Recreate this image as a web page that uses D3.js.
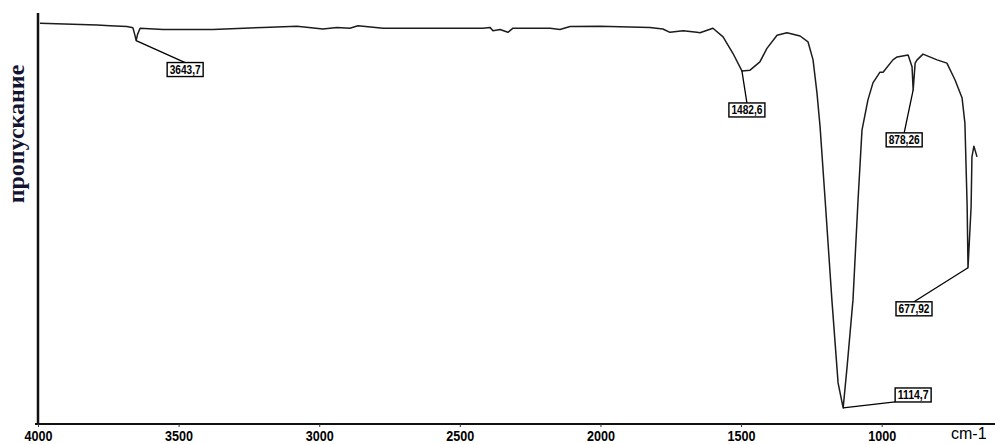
<!DOCTYPE html>
<html>
<head>
<meta charset="utf-8">
<script src="https://cdn.jsdelivr.net/npm/d3@7"></script>
<style>
  html, body { margin: 0; padding: 0; background: #fff; }
  svg { display: block; }
</style>
</head>
<body>
<div id="chart"></div>
<script>
// IR spectrum, transmittance vs wavenumber (cm-1)
const wavenumbers = [3993, 3790, 3744, 3684, 3666, 3662, 3655, 3651, 3646, 3637, 3555, 3378, 3200, 3079,
  2987, 2937, 2891, 2862, 2773, 2418, 2393, 2382, 2357, 2329, 2311, 2179, 2144, 2108, 2002, 1824,
  1778, 1753, 1706, 1657, 1646, 1600, 1564, 1529, 1497, 1468, 1433, 1408, 1372, 1337, 1290, 1262,
  1244, 1230, 1219, 1201, 1177, 1155, 1137, 1123, 1102, 1084, 1070, 1049, 1031, 1006, 995, 960,
  945, 906, 892, 888, 881, 874, 853, 803, 768, 739, 714, 704, 696, 693, 682, 679, 672, 661];
const transmittance = [97.5, 97.1, 96.9, 96.7, 96.5, 96.3, 94.5, 93.3, 94.8, 96.3, 96.0, 96.0, 96.5, 96.8,
  96.1, 96.5, 96.3, 96.9, 96.3, 96.3, 96.5, 95.7, 96.0, 95.3, 96.3, 96.3, 96.0, 96.7, 96.8, 96.5,
  96.1, 95.3, 95.7, 95.3, 95.2, 96.3, 94.2, 90.2, 85.9, 86.1, 88.1, 91.4, 94.6, 95.2, 94.4, 93.0,
  88.6, 80.5, 72.3, 54.5, 30.2, 10.0, 3.9, 13.9, 30.2, 54.5, 71.5, 78.8, 83.0, 85.6, 85.6, 88.6,
  89.3, 89.8, 86.9, 81.3, 87.8, 88.6, 90.0, 88.6, 87.8, 83.7, 79.3, 73.2, 52.8, 38.0, 52.8, 65.0, 67.6, 65.0];

// peak annotations
const peakValues = [3643.7, 1482.6, 1114.7, 878.26, 677.92];
const peakLabels = ["3643,7", "1482,6", "1114,7", "878,26", "677,92"];

const xTicks = [4000, 3500, 3000, 2500, 2000, 1500, 1000];
const xUnit = "cm-1";
const yTitle = "пропускание";

const width = 995, height = 444;
const margin = {top: 13, right: 0, bottom: 20, left: 38};

const svg = d3.select("#chart").append("svg")
  .attr("width", width)
  .attr("height", height);

const x = d3.scaleLinear()
  .domain([4000, 597])
  .range([margin.left, width - margin.right]);

const y = d3.scaleLinear()
  .domain([0, 100])
  .range([height - margin.bottom, margin.top]);

const points = wavenumbers.map((w, i) => ({w: w, t: transmittance[i]}));

// axes
const xAxis = svg.append("g")
  .attr("transform", `translate(0, ${y(0)})`)
  .call(d3.axisBottom(x).tickValues(xTicks).tickSize(3).tickPadding(3).tickFormat(d3.format("d")));
xAxis.select(".domain").attr("stroke", "#111").attr("stroke-width", 2.2).attr("d", `M${margin.left - 3},0H${width}`);
xAxis.selectAll(".tick line").attr("stroke", "#333").attr("stroke-width", 1);
// the original uses a condensed face, squeeze the digits to match
xAxis.selectAll(".tick text")
  .attr("fill", "#000")
  .attr("textLength", 28)
  .attr("lengthAdjust", "spacingAndGlyphs")
  .style("font-family", "'Liberation Sans', Arial, sans-serif")
  .style("font-weight", "bold")
  .style("font-size", "15px");

svg.append("line")
  .attr("x1", x(4000)).attr("x2", x(4000))
  .attr("y1", y(100)).attr("y2", y(0))
  .attr("stroke", "#111")
  .attr("stroke-width", 2.5);

svg.append("text")
  .attr("x", 951)
  .attr("y", 439)
  .style("font-family", "'Liberation Sans', Arial, sans-serif")
  .style("font-size", "16px")
  .attr("fill", "#000")
  .text(xUnit);

svg.append("text")
  .attr("transform", `translate(24, ${134}) rotate(-90)`)
  .attr("text-anchor", "middle")
  .style("font-family", "'Liberation Serif', 'Times New Roman', serif")
  .style("font-weight", "bold")
  .style("font-size", "24px")
  .attr("fill", "#141432")
  .text(yTitle);

// spectrum trace
const line = d3.line()
  .x(d => x(d.w))
  .y(d => y(d.t));

svg.append("path")
  .datum(points)
  .attr("fill", "none")
  .attr("stroke", "#1c1c1c")
  .attr("stroke-width", 1.5)
  .attr("stroke-linejoin", "round")
  .attr("d", line);

// label placement: box centre offset from the peak point, and where the leader meets the box
const labelOffsets = [
  {dx: 49, dy: 29, attach: "top"},
  {dx: 5, dy: 39, attach: "top"},
  {dx: 70, dy: -13, attach: "left"},
  {dx: -9, dy: 50, attach: "top"},
  {dx: -54, dy: 41, attach: "top"}
];

// find the trace minimum near each labelled value
const peaks = peakValues.map((v, i) => {
  const near = points.filter(p => Math.abs(p.w - v) <= 30);
  const lowest = d3.least(near, p => p.t);
  return {label: peakLabels[i], w: lowest.w, t: lowest.t, off: labelOffsets[i]};
});

const ann = svg.append("g").selectAll("g")
  .data(peaks)
  .join("g");

ann.each(function(d) {
  const g = d3.select(this);
  const px = x(d.w), py = y(d.t);
  const cx = px + d.off.dx, cy = py + d.off.dy;
  const bw = 36, bh = 14;
  g.append("line")
    .attr("x1", px).attr("y1", py)
    .attr("x2", d.off.attach === "left" ? cx - bw / 2 : cx)
    .attr("y2", d.off.attach === "left" ? cy + bh / 2 : cy - bh / 2)
    .attr("stroke", "#000")
    .attr("stroke-width", 1.3);
  g.append("rect")
    .attr("x", cx - bw / 2)
    .attr("y", cy - bh / 2)
    .attr("width", bw)
    .attr("height", bh)
    .attr("fill", "#fff")
    .attr("stroke", "#000")
    .attr("stroke-width", 1.4);
  g.append("text")
    .attr("x", cx)
    .attr("y", cy + 4.5)
    .attr("text-anchor", "middle")
    .attr("textLength", 31)
    .attr("lengthAdjust", "spacingAndGlyphs")
    .style("font-family", "'Liberation Sans', Arial, sans-serif")
    .style("font-weight", "bold")
    .style("font-size", "13px")
    .attr("fill", "#000")
    .text(d.label);
});
</script>
</body>
</html>
